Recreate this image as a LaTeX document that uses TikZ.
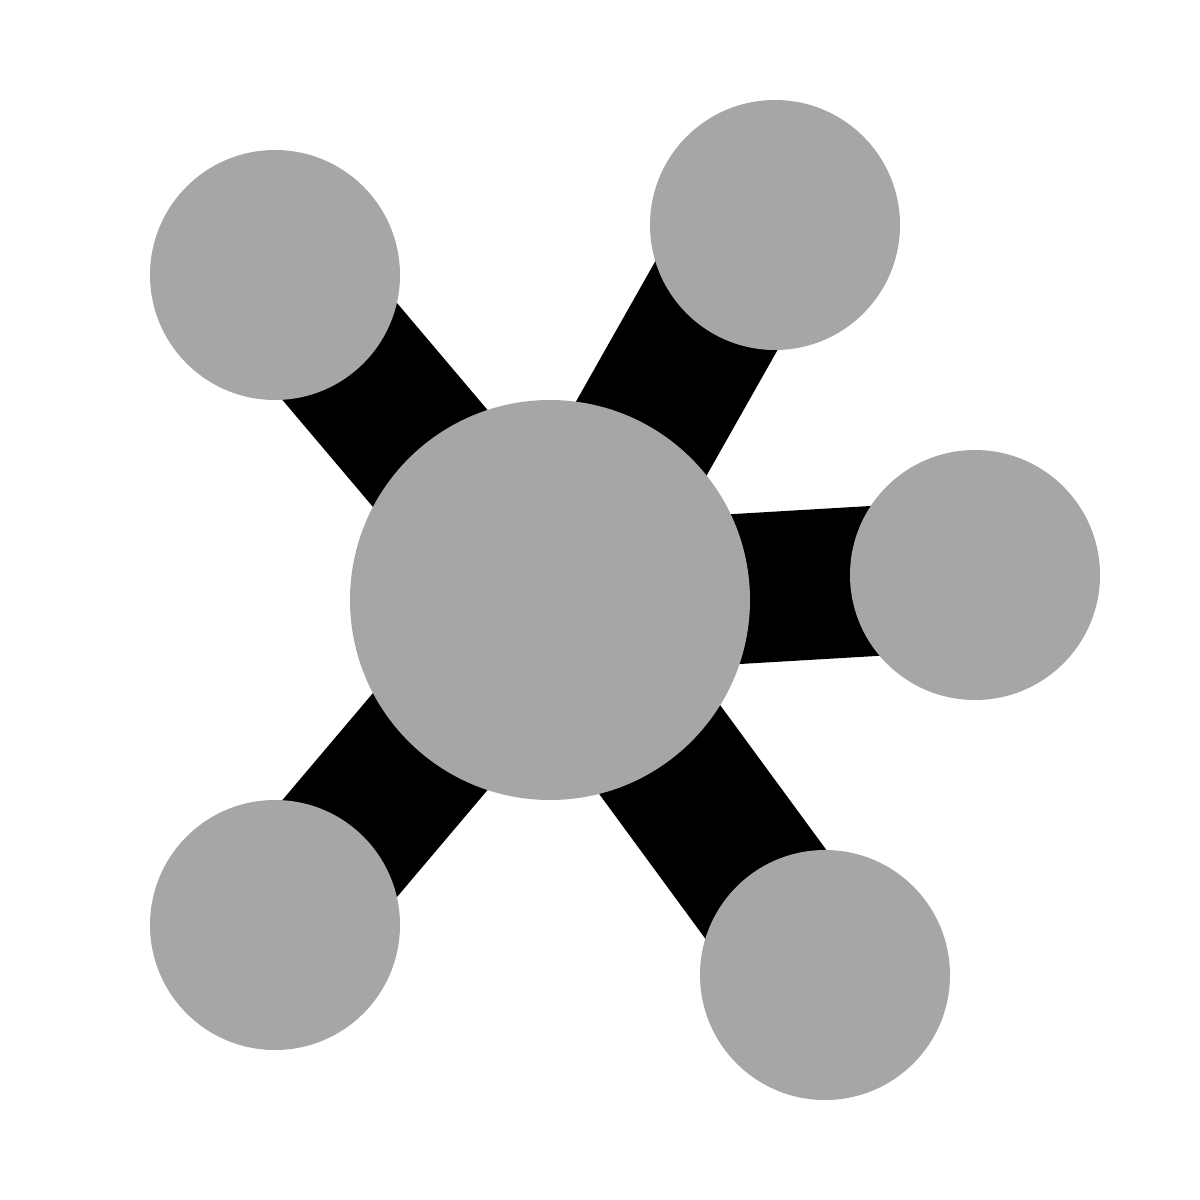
\documentclass[tikz,border=0pt]{standalone}
\usetikzlibrary{backgrounds}
\definecolor{ballgray}{HTML}{A6A6A6}
\begin{document}
\begin{tikzpicture}[x=0.01cm,y=-0.01cm,
  ball/.style={circle,fill=ballgray,draw=none,inner sep=0pt,minimum size=250*0.01cm},
  bigball/.style={circle,fill=ballgray,draw=none,inner sep=0pt,minimum size=400*0.01cm},
  bond/.style={line width=1.5cm,draw=black}]
\useasboundingbox (0,0) rectangle (1200,1200);
\node[bigball] (c) at (550,600) {};
\node[ball] (tl) at (275,275) {};
\node[ball] (tr) at (775,225) {};
\node[ball] (r) at (975,575) {};
\node[ball] (bl) at (275,925) {};
\node[ball] (br) at (825,975) {};
\coordinate (trend) at (762,225);
\begin{scope}[on background layer]
\fill[white] (0,0) rectangle (1200,1200);
\draw[bond] (c.center) -- (tl.center);
\draw[bond] (c.center) -- (trend);
\draw[bond] (c.center) -- (r.center);
\draw[bond] (c.center) -- (bl.center);
\draw[bond] (c.center) -- (br.center);
\end{scope}
\end{tikzpicture}
\end{document}
